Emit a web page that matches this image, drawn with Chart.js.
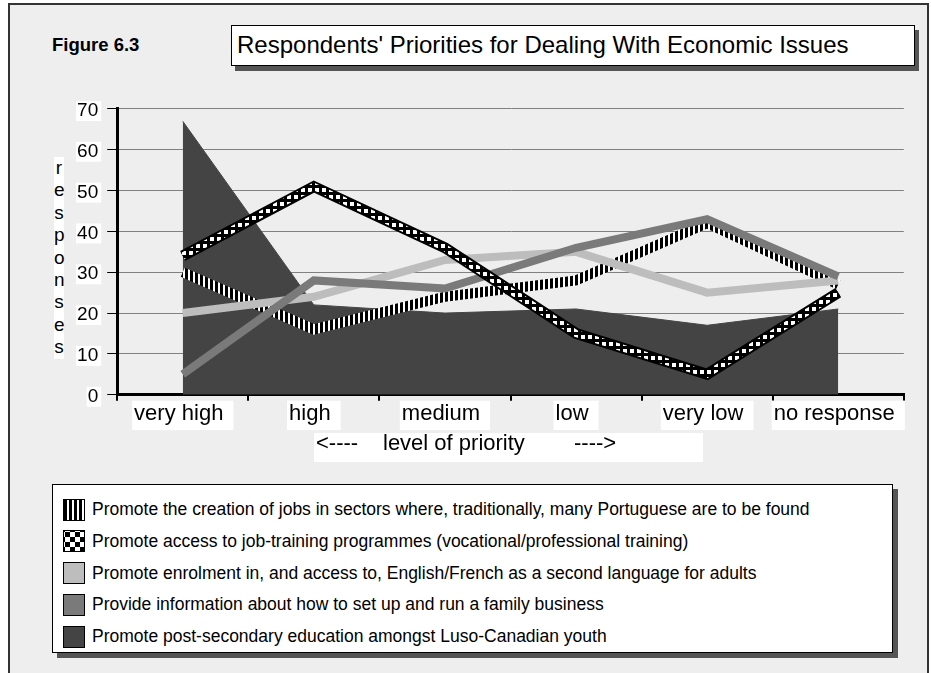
<!DOCTYPE html>
<html>
<head>
<meta charset="utf-8">
<script src="https://cdn.jsdelivr.net/npm/chart.js@4.4.0/dist/chart.umd.min.js"></script>
<style>
  body { margin: 0; background: #fff; font-family: "Liberation Sans", Arial, sans-serif; color: #000; }
  #page { position: relative; width: 931px; height: 673px; overflow: hidden; }
  #frame { position: absolute; left: 8px; top: 3px; width: 921px; height: 720px; border: 2px solid #333; background: #eee; box-sizing: border-box; }
  #fig { position: absolute; left: 52px; top: 34px; font-weight: bold; font-size: 18.5px; line-height: 22px; }
  #title { position: absolute; left: 231px; top: 25px; width: 684px; height: 41px; box-sizing: border-box; border: 1.5px solid #000; background: #fff; box-shadow: 4px 5px 0 #555; font-size: 24px; line-height: 38px; padding-left: 5px; }
  #ylabel { position: absolute; left: 54px; top: 157px; width: 10px; background: #fff; font-size: 19px; line-height: 22.4px; text-align: center; }
  #chartBox { position: absolute; left: 0; top: 90px; width: 931px; height: 350px; }
  #xtitle { position: absolute; left: 314px; top: 433px; width: 389px; height: 29px; background: #fff; font-size: 22px; line-height: 22px; }
  #xtitle span { position: absolute; top: -1.5px; white-space: pre; }
  #legend { position: absolute; left: 52px; top: 484px; width: 841px; height: 169px; box-sizing: border-box; border: 1.5px solid #000; background: #fff; box-shadow: 5px 5px 0 #555; padding-top: 10px; }
  .row { position: relative; height: 31.75px; }
  .sw { position: absolute; left: 10px; top: 3.5px; width: 22px; height: 22px; box-sizing: border-box; border: 1.5px solid #000; }
  .txt { position: absolute; left: 39px; top: 0; font-size: 17.5px; line-height: 29px; white-space: nowrap; }
</style>
</head>
<body>
<div id="page">
  <div id="frame"></div>
  <div id="fig">Figure 6.3</div>
  <div id="title">Respondents' Priorities for Dealing With Economic Issues</div>
  <div id="ylabel"></div>
  <div id="chartBox"><canvas id="chart" width="931" height="350"></canvas></div>
  <div id="xtitle"><span style="left:2px">&lt;----</span><span style="left:69px">level of priority</span><span style="left:260px">----&gt;</span></div>
  <div id="legend"></div>
</div>
<script>
// priority levels along the bottom
const levels = ['very high', 'high', 'medium', 'low', 'very low', 'no response'];

// number of responses per priority level
const jobsCreation   = [30, 16, 24, 28, 42, 27];
const jobTraining    = [34, 51, 36, 15, 5, 25];
const secondLanguage = [20, 24, 33, 35, 25, 28];
const familyBusiness = [5, 28, 26, 36, 43, 29];
const postSecondary  = [67, 22, 20, 21, 17, 21];

const yTicks = [0, 10, 20, 30, 40, 50, 60, 70];
const yWord = 'responses';

const legendNames = [
  'Promote the creation of jobs in sectors where, traditionally, many Portuguese are to be found',
  'Promote access to job-training programmes (vocational/professional training)',
  'Promote enrolment in, and access to, English/French as a second language for adults',
  'Provide information about how to set up and run a family business',
  'Promote post-secondary education amongst Luso-Canadian youth'
];

// vertical letters for the y title
document.getElementById('ylabel').innerHTML = yWord.split('').map(c => '<div>' + c + '</div>').join('');

// small repeating tiles used as stroke patterns
function tile(w, h, paint) {
  const c = document.createElement('canvas');
  c.width = w; c.height = h;
  const g = c.getContext('2d');
  paint(g);
  return g.createPattern(c, 'repeat');
}
const stripes = tile(5, 5, g => {
  g.fillStyle = '#fff'; g.fillRect(0, 0, 5, 5);
  g.fillStyle = '#000'; g.fillRect(0, 0, 3, 5);
});
const checks = tile(7, 7, g => {
  g.fillStyle = '#000'; g.fillRect(0, 0, 7, 7);
  g.fillStyle = '#fff'; g.fillRect(0, 0, 4, 4);
});

// legend swatches
const swatches = [
  'background: repeating-linear-gradient(90deg, #000 0 3px, #fff 3px 5px);',
  'background: #000 radial-gradient(#fff 0 0) 0 0 / 0 0; background-image: conic-gradient(#fff 25%, #000 0 50%, #fff 0 75%, #000 0); background-size: 10px 10px; background-position: 1px 1px;',
  'background: #bdbdbd;',
  'background: #7a7a7a;',
  'background: #444;'
];
document.getElementById('legend').innerHTML = legendNames.map((t, i) =>
  '<div class="row"><div class="sw" style="' + swatches[i] + '"></div><div class="txt">' + t + '</div></div>'
).join('');

const line = (data, color, width, order) => ({
  data, borderColor: color, borderWidth: width, order,
  pointRadius: 0, tension: 0, fill: false,
  borderJoinStyle: 'miter', borderCapStyle: 'butt'
});

new Chart(document.getElementById('chart'), {
  type: 'line',
  data: {
    labels: levels,
    datasets: [
      line(jobTraining, checks, 7, 0),
      line(jobTraining, '#000', 11, 1),
      line(familyBusiness, '#7a7a7a', 8, 2),
      line(secondLanguage, '#bdbdbd', 8, 3),
      line(jobsCreation, stripes, 10, 4),
      {
        data: postSecondary, order: 5, fill: 'origin',
        backgroundColor: '#444', borderColor: '#444', borderWidth: 1,
        pointRadius: 0, tension: 0
      }
    ]
  },
  options: {
    responsive: false,
    animation: false,
    layout: { padding: { top: 18.3, right: 27.2, left: 0, bottom: 0 } },
    plugins: { legend: { display: false }, tooltip: { enabled: false } },
    scales: {
      x: {
        offset: true,
        afterFit: s => { s.height = 45.3; },
        grid: {
          offset: true, drawOnChartArea: false, tickLength: 6, lineWidth: 2,
          tickColor: c => c.index === levels.length ? 'rgba(0,0,0,0)' : '#000'
        },
        border: { color: '#000', width: 3 },
        ticks: {
          color: '#000', padding: 0, maxRotation: 0, autoSkip: false,
          font: { family: '"Liberation Sans", Arial, sans-serif', size: 22, lineHeight: 1.2 },
          labelOffset: -4,
          showLabelBackdrop: true, backdropColor: '#fff',
          backdropPadding: { top: 0, bottom: 3, left: 2, right: 10 }
        }
      },
      y: {
        min: 0, max: 70,
        afterFit: s => { s.width = 117.2; },
        afterBuildTicks: s => { s.ticks = yTicks.map(v => ({ value: v })); },
        grid: { color: '#808080', lineWidth: 1, tickLength: 10, tickColor: '#000' },
        border: { color: '#000', width: 3 },
        ticks: {
          color: '#000', padding: 9, labelOffset: 2,
          font: { family: '"Liberation Sans", Arial, sans-serif', size: 19, lineHeight: 1.05 },
          showLabelBackdrop: true, backdropColor: '#fff',
          backdropPadding: { top: 0, bottom: 0, left: 1, right: 3 }
        }
      }
    }
  }
});
</script>
</body>
</html>
